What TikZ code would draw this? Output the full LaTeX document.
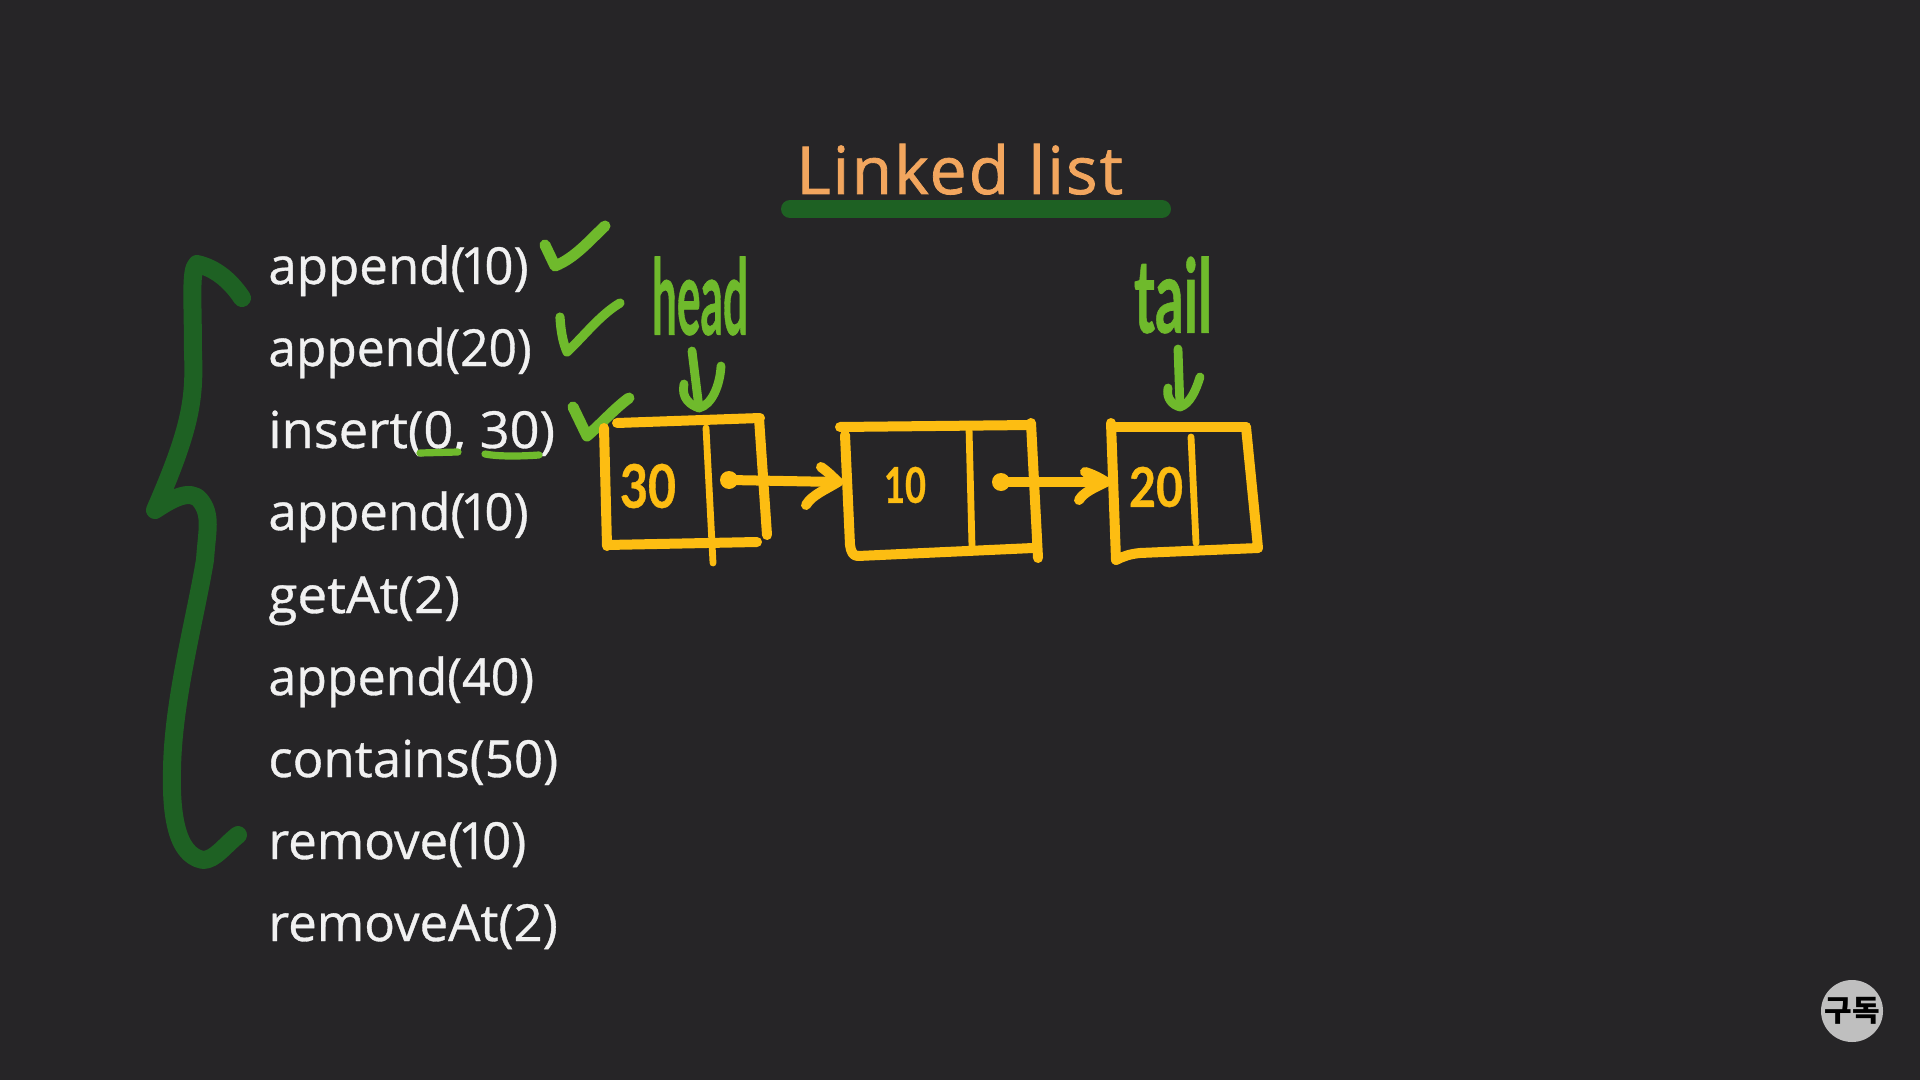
\documentclass[tikz,border=0pt]{standalone}
\usepackage{fontspec}
\usepackage{graphicx}
\setmainfont{Open Sans}
\newfontfamily\handfont{Lato}
\newfontfamily\krfont{Noto Sans CJK KR}
\definecolor{bgc}{HTML}{262527}
\definecolor{darkgr}{HTML}{1E6123}
\definecolor{ltgr}{HTML}{6FBA2C}
\definecolor{yel}{HTML}{FDBD12}
\definecolor{orng}{HTML}{F2A65E}
\definecolor{txt}{HTML}{F1F1F1}
\newcommand{\fitto}[3]{\resizebox{#1pt}{#2pt}{\handfont\bfseries\addfontfeatures{FakeBold=0.8}#3}}
\newcommand{\opx}[2]{\scalebox{#1}[1]{#2}}
\newcommand{\nar}{\kern-2.6pt 1\kern-2.6pt}
\tikzset{
  op/.style={anchor=base west,inner sep=0pt,text=txt,font=\fontsize{25.5pt}{30pt}\selectfont\addfontfeatures{FakeBold=0.7}},
  pen/.style={line cap=round,line join=round},
  yelpen/.style={pen,draw=yel,line width=5pt},
  yelthin/.style={pen,draw=yel,line width=3.4pt},
  grpen/.style={pen,draw=ltgr,line width=4.4pt},
  darkpen/.style={pen,draw=darkgr,line width=9pt},
  handy/.style={inner sep=0pt,text=yel},
  handg/.style={inner sep=0pt,text=ltgr}
}
\begin{document}
\begin{tikzpicture}[x=0.5pt,y=-0.5pt]
\useasboundingbox (0,0) rectangle (1920,1080);
\fill[bgc] (0,0) rectangle (1920,1080);

% title
\node[anchor=base west,inner sep=0pt,text=orng,font=\fontsize{33pt}{38pt}\selectfont\addfontfeatures{LetterSpace=3.2,FakeBold=1.2}] (title) at (796,194) {Linked list};
\coordinate (ulA) at (790,209);
\coordinate (ulB) at (1162,209);
\draw[darkpen] (ulA) -- (ulB);

% operations
\node[op] (o1) at (268,284) {append(\nar 0)};
\node[op] (o2) at (268,366) {\opx{0.973}{append(20)}};
\node[op] (o3) at (268,448) {\opx{1.026}{insert(0, 30)}};
\node[op] (o4) at (268,530) {append(\nar 0)};
\node[op] (o5) at (268,613) {\opx{1.04}{getAt(2)}};
\node[op] (o6) at (268,695) {\opx{0.982}{append(40)}};
\node[op] (o7) at (268,777) {contains(50)};
\node[op] (o8) at (268,859) {remove(\nar 0)};
\node[op] (o9) at (268,941) {removeAt(2)};

% brace
\draw[darkpen] (242,298) .. controls (230,280) and (215,268) .. (197,264)
  .. controls (190,270) and (193,300) .. (193,353)
  .. controls (195,400) and (190,430) .. (155,510)
  .. controls (170,500) and (190,488) .. (200,500)
  .. controls (212,515) and (207,530) .. (205,560)
  .. controls (195,620) and (173,700) .. (172,770)
  .. controls (171,810) and (175,855) .. (203,860)
  .. controls (215,860) and (225,845) .. (238,835);

% checks
\draw[grpen,line width=5.5pt] (545,245) -- (555,266) .. controls (575,258) and (590,240) .. (605,226);
\draw[grpen,line width=4.6pt] (560,317) .. controls (561,335) and (564,345) .. (567,352) .. controls (585,335) and (600,315) .. (620,303);
\draw[grpen,line width=5.5pt] (573,407) -- (587,436) .. controls (600,425) and (615,408) .. (629,398);
\draw[grpen,line width=3.6pt] (420,453) -- (458,452);
\draw[grpen,line width=3.6pt] (485,454) .. controls (500,457) and (525,456) .. (539,455);

% labels
\node[handg] (head) at (700,296) {\fitto{48}{39}{head}};
\node[handg] (tail) at (1173,295) {\fitto{39}{38}{tail}};
\node[handy] (n30) at (648,486) {\fitto{28}{22}{30}};
\node[handy] (n10) at (905,485) {\fitto{21}{18}{10}};
\node[handy] (n20) at (1156,487) {\fitto{27}{20}{20}};

% node 1
\draw[yelpen] (617,423) -- (760,418);
\draw[yelpen] (759,418) -- (767,535);
\draw[yelpen] (604,428) -- (607,546);
\draw[yelpen] (607,545) -- (757,542);
\draw[yelthin] (706,428) -- (713,563);
% node 2
\draw[yelpen] (840,427) -- (1031,425);
\draw[yelpen] (1031,423) -- (1038,558);
\draw[yelpen] (845,435) -- (850,545) .. controls (851,552) and (853,556) .. (858,556);
\draw[yelpen] (858,556) -- (1033,548);
\draw[yelthin] (969,428) -- (972,547);
% node 3
\draw[yelpen] (1113,427) -- (1246,427);
\draw[yelpen] (1111,423) -- (1116,560);
\draw[yelpen] (1116,560) .. controls (1124,556) and (1130,554) .. (1140,553) -- (1258,548);
\draw[yelpen] (1246,427) -- (1258,548);
\draw[yelthin] (1191,437) -- (1196,543);

% pointers
\coordinate (dotA) at (729,480);
\coordinate (tipA) at (838,482);
\coordinate (dotB) at (1001,482);
\coordinate (tipB) at (1106,482);
\fill[yel] (dotA) circle (9);
\fill[yel] (dotB) circle (9);
\draw[yelpen] (dotA) -- (tipA);
\draw[yelpen] (dotB) -- (tipB);
\draw[yelpen] (821,467) .. controls (828,472) and (833,477) .. (tipA) .. controls (825,490) and (812,495) .. (806,505);
\draw[yelpen] (1085,472) .. controls (1092,474) and (1100,478) .. (tipB) .. controls (1094,488) and (1084,492) .. (1079,500);

% head and tail arrows
\coordinate (hs) at (692,351);
\coordinate (ht) at (699,408);
\coordinate (ts) at (1178,349);
\coordinate (tt) at (1180,407);
\draw[grpen] (hs) -- (ht);
\draw[grpen] (684,384) .. controls (681,398) and (690,405) .. (ht) .. controls (712,405) and (720,385) .. (721,366);
\draw[grpen] (ts) -- (tt);
\draw[grpen] (1168,388) .. controls (1166,398) and (1172,405) .. (tt) .. controls (1190,404) and (1196,390) .. (1200,377);

% subscribe badge
\node[circle,fill=black!25,minimum size=62pt*0.5,inner sep=0pt,text=black,font=\krfont\bfseries\fontsize{15pt}{16pt}\selectfont] (badge) at (1852,1011) {구독};
\end{tikzpicture}
\end{document}
